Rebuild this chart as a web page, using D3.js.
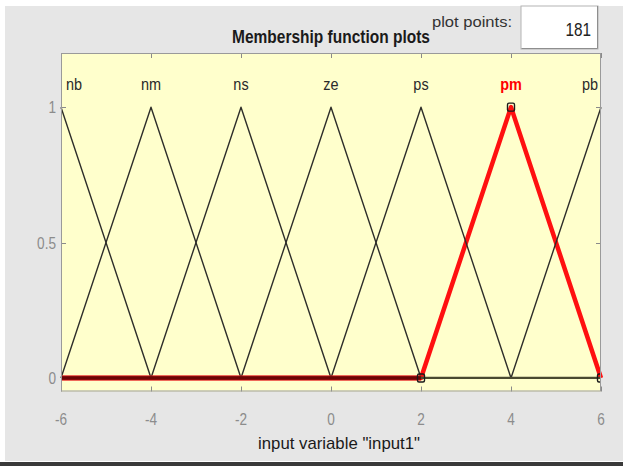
<!DOCTYPE html>
<html>
<head>
<meta charset="utf-8">
<script src="https://cdn.jsdelivr.net/npm/d3@7"></script>
<style>
  html, body { margin: 0; padding: 0; background: #ffffff; }
  svg { display: block; }
  text { font-family: "Liberation Sans", Arial, sans-serif; }
</style>
</head>
<body>
<svg id="chart" width="623" height="466"></svg>
<script>
// Membership functions of input1 (triangular, parameters [a, b, c])
const mfNames  = ["nb", "nm", "ns", "ze", "ps", "pm", "pb"];
const mfParams = [[-8, -6, -4], [-6, -4, -2], [-4, -2, 0], [-2, 0, 2], [0, 2, 4], [2, 4, 6], [4, 6, 8]];
const selectedMf = "pm";

const xRange = [-6, 6];
const xTicks = [-6, -4, -2, 0, 2, 4, 6];
const yTicks = [0, 0.5, 1];
const yTickLabels = ["0", "0.5", "1"];

const plotPoints = 181;
const titleText = "Membership function plots";
const xLabelText = 'input variable "input1"';

const svg = d3.select("#chart");
const W = 623, H = 466;
const box = { left: 61, right: 601, top: 53, bottom: 391.5 };

const x = d3.scaleLinear().domain(xRange).range([box.left, box.right]);
const y = d3.scaleLinear().domain([-0.05, 1.2]).range([box.bottom, box.top]);

// condensed text: narrow the glyphs horizontally around the anchor point
function narrow(sel, sx) {
  sel.each(function () {
    const t = d3.select(this);
    const ax = +t.attr("x");
    t.attr("transform", `translate(${ax},0) scale(${sx},1) translate(${-ax},0)`);
  });
  return sel;
}

// window background
svg.append("rect").attr("x", 5).attr("y", 6).attr("width", W - 5).attr("height", 455).attr("fill", "#e6e6e6");
svg.append("rect").attr("x", 0).attr("y", 462).attr("width", W).attr("height", 4).attr("fill", "#3a3a3a");

// plot points box
svg.append("rect").attr("x", 521).attr("y", 6).attr("width", 77).attr("height", 43)
  .attr("fill", "#ffffff").attr("stroke", "#b4b4b4").attr("stroke-width", 1);
svg.append("path").attr("d", "M521.5,48.5 H597.5 V6").attr("fill", "none").attr("stroke", "#8e8e8e").attr("stroke-width", 1);
narrow(svg.append("text").attr("x", 591).attr("y", 36).attr("text-anchor", "end")
  .attr("font-size", 18).attr("fill", "#222").text(plotPoints), 0.85);
svg.append("text").attr("x", 432).attr("y", 27)
  .attr("font-size", 14).attr("fill", "#333")
  .attr("textLength", 80).attr("lengthAdjust", "spacingAndGlyphs").text("plot points:");

// title
svg.append("text").attr("x", 232).attr("y", 43)
  .attr("font-size", 18).attr("font-weight", "bold").attr("fill", "#1a1a1a")
  .attr("textLength", 198).attr("lengthAdjust", "spacingAndGlyphs").text(titleText);

// axes area
svg.append("rect").attr("x", box.left).attr("y", box.top)
  .attr("width", box.right - box.left).attr("height", box.bottom - box.top)
  .attr("fill", "#ffffcc");

// ticks inside the box
const tickG = svg.append("g").attr("stroke", "#8a8a8a").attr("stroke-width", 1);
xTicks.forEach(t => {
  const px = Math.round(x(t)) + 0.5;
  tickG.append("line").attr("x1", px).attr("x2", px).attr("y1", box.top).attr("y2", box.top + 5);
  tickG.append("line").attr("x1", px).attr("x2", px).attr("y1", box.bottom).attr("y2", box.bottom - 5);
});
yTicks.forEach(t => {
  const py = Math.round(y(t)) + 0.5;
  tickG.append("line").attr("x1", box.left).attr("x2", box.left + 5).attr("y1", py).attr("y2", py);
  tickG.append("line").attr("x1", box.right).attr("x2", box.right - 5).attr("y1", py).attr("y2", py);
});

// tick labels
narrow(svg.append("g").selectAll("text").data(xTicks).join("text")
  .attr("x", d => x(d)).attr("y", 425).attr("text-anchor", "middle")
  .attr("font-size", 16).attr("fill", "#8c8c8c").text(d => d), 0.85);
narrow(svg.append("g").selectAll("text").data(yTicks).join("text")
  .attr("x", 56).attr("y", d => y(d) + 6).attr("text-anchor", "end")
  .attr("font-size", 16).attr("fill", "#8c8c8c").text((d, i) => yTickLabels[i]), 0.85);

// x label
svg.append("text").attr("x", 258).attr("y", 449)
  .attr("font-size", 17).attr("fill", "#1a1a1a")
  .attr("textLength", 162).attr("lengthAdjust", "spacingAndGlyphs").text(xLabelText);

// vertices of a triangular membership function over the input range
function trimfVertices(p) {
  const [a, b, c] = p;
  const f = v => Math.max(0, Math.min((v - a) / (b - a), (c - v) / (c - b)));
  const xs = [xRange[0], a, b, c, xRange[1]].filter(v => v >= xRange[0] && v <= xRange[1]);
  return Array.from(new Set(xs)).sort((u, v) => u - v).map(v => [v, f(v)]);
}

const line = d3.line().x(d => x(d[0])).y(d => y(d[1]));
const plotG = svg.append("g");
const mfs = mfNames.map((name, i) => ({ name, params: mfParams[i], pts: trimfVertices(mfParams[i]) }));

// selected function first (thick red), others on top
mfs.filter(m => m.name === selectedMf).forEach(m => {
  plotG.append("path").attr("d", line(m.pts)).attr("fill", "none")
    .attr("stroke", "#ff1010").attr("stroke-width", 4.5).attr("stroke-linejoin", "round");
});
mfs.filter(m => m.name !== selectedMf).forEach(m => {
  plotG.append("path").attr("d", line(m.pts)).attr("fill", "none")
    .attr("stroke", "#2e2e2a").attr("stroke-width", 1.4).attr("stroke-linejoin", "round");
});
// base line where every function is zero reads darker
plotG.append("line").attr("x1", x(xRange[0])).attr("x2", x(xRange[1]))
  .attr("y1", y(0)).attr("y2", y(0)).attr("stroke", "#4a4a30").attr("stroke-width", 2.2);
mfs.filter(m => m.name === selectedMf).forEach(m => {
  const zeroPts = m.pts.filter(p => p[1] === 0 && p[0] <= m.params[0]);
  plotG.append("path").attr("d", line(zeroPts)).attr("fill", "none")
    .attr("stroke", "#e02020").attr("stroke-width", 6).attr("opacity", 0.55);
  plotG.append("path").attr("d", line(zeroPts)).attr("fill", "none")
    .attr("stroke", "#6a0606").attr("stroke-width", 3.5);
  // handles at the parameter points
  const clip = svg.append("clipPath").attr("id", "boxclip");
  clip.append("rect").attr("x", box.left).attr("y", box.top)
    .attr("width", box.right - box.left).attr("height", box.bottom - box.top);
  const pvals = m.params.map((p, i) => [p, i === 1 ? 1 : 0]);
  plotG.append("g").attr("clip-path", "url(#boxclip)").selectAll("rect").data(pvals).join("rect")
    .attr("x", d => x(d[0]) - 3.5).attr("y", d => y(d[1]) - 4)
    .attr("width", 7).attr("height", 8).attr("rx", 1.5)
    .attr("fill", "none").attr("stroke", "#1a1a1a").attr("stroke-width", 1.4);
});

// box border
svg.append("rect").attr("x", box.left + 0.5).attr("y", box.top + 0.5)
  .attr("width", box.right - box.left - 1).attr("height", box.bottom - box.top - 1)
  .attr("fill", "none").attr("stroke", "#9a9a9a").attr("stroke-width", 1);

// function names above their peaks, kept inside the box
const labelG = svg.append("g");
mfs.forEach(m => {
  const sel = m.name === selectedMf;
  const t = labelG.append("text").attr("y", 90).attr("text-anchor", "middle")
    .attr("font-size", 17).attr("fill", sel ? "#ff0000" : "#2a2a2a")
    .attr("font-weight", sel ? "bold" : "normal").text(m.name);
  const w = t.node().getComputedTextLength() * 0.85;
  const cx = Math.max(box.left + w / 2 + 5, Math.min(box.right - w / 2 - 3, x(m.params[1])));
  t.attr("x", cx);
  narrow(t, 0.85);
});
</script>
</body>
</html>
